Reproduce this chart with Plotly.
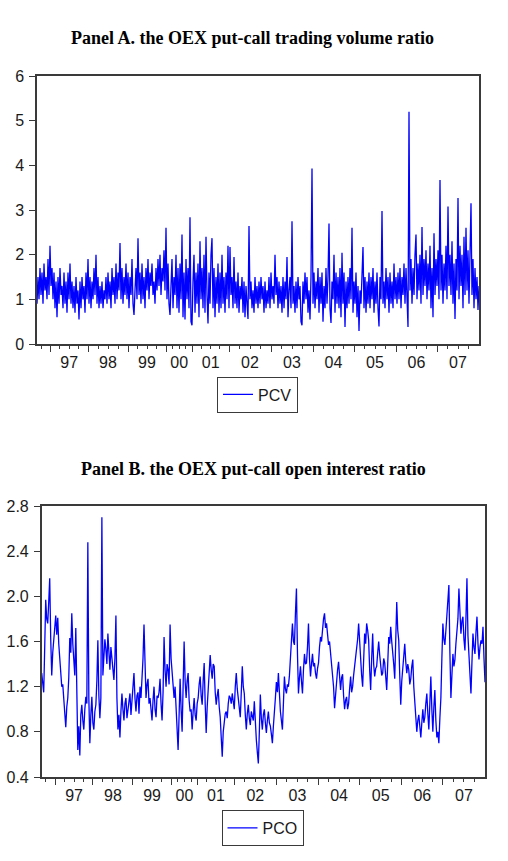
import numpy as np
import plotly.graph_objects as go

# ---------------- data ----------------
year_labels = ["97", "98", "99", "00", "01", "02", "03", "04", "05", "06", "07"]
# observation index at which each year starts (axis is observation based)
year_starts = [13.5, 51, 91, 129, 155.5, 192, 234, 276, 317, 359, 400]
obs_end = 442

# Panel A: OEX put-call trading volume ratio (one value per observation step)
pcv = [
    0.9, 1.5, 1.0, 1.7, 1.1, 1.6, 0.9, 1.8, 1.2, 1.5,
    1.0, 1.9, 1.1, 2.2, 1.3, 1.7, 1.0, 1.6, 0.8, 1.4,
    0.6, 1.5, 0.9, 1.7, 1.1, 1.3, 0.8, 1.6, 0.9, 1.4,
    0.7, 1.6, 1.0, 1.8, 0.9, 1.4, 0.8, 1.3, 0.7, 1.5,
    0.9, 1.2, 0.55, 1.4, 0.8, 1.5, 1.0, 1.3, 0.7, 1.6,
    1.0, 1.9, 0.9, 1.5, 0.8, 1.4, 1.0, 1.7, 1.1, 2.0,
    0.9, 1.5, 0.8, 1.3, 0.9, 1.4, 0.8, 1.2, 1.0, 1.5,
    0.9, 1.6, 1.0, 1.4, 0.8, 1.7, 1.1, 1.5, 0.9, 1.8,
    1.0, 1.6, 1.2, 2.26, 1.0, 1.7, 0.9, 1.5, 1.1, 1.8,
    1.0, 1.6, 0.8, 1.5, 1.1, 1.9, 0.9, 0.65, 1.2, 1.7,
    1.0, 2.37, 1.1, 1.6, 0.9, 1.8, 1.0, 1.5, 0.8, 1.7,
    1.2, 1.9, 1.0, 1.6, 1.3, 1.8, 1.1, 1.4, 0.9, 1.7,
    1.2, 1.9, 1.3, 2.0, 1.1, 1.7, 1.4, 2.1, 1.2, 2.6,
    1.0, 1.8, 0.9, 0.65, 1.3, 1.9, 0.8, 1.5, 1.1, 2.0,
    0.8, 1.7, 0.7, 1.8, 1.0, 2.45, 0.6, 1.6, 0.55, 1.9,
    1.0, 1.7, 0.8, 2.84, 0.5, 0.42, 1.4, 2.0, 0.7, 1.6,
    0.9, 1.8, 0.6, 2.3, 1.0, 1.7, 0.8, 2.0, 0.7, 2.4,
    1.1, 0.46, 1.6, 0.9, 2.0, 2.37, 0.8, 1.7, 0.6, 1.5,
    0.9, 1.8, 0.7, 1.6, 0.8, 2.0, 0.9, 1.5, 0.7, 1.6,
    1.0, 2.2, 0.8, 2.17, 1.1, 1.5, 0.8, 1.95, 0.9, 1.4,
    0.8, 1.6, 0.7, 1.3, 1.0, 1.5, 0.7, 1.4, 0.6, 1.3,
    0.9, 0.56, 2.64, 1.0, 1.4, 0.8, 1.2, 0.7, 1.5, 0.9,
    1.3, 0.8, 1.4, 0.9, 1.5, 1.0, 1.3, 0.7, 1.4, 0.8,
    1.2, 0.9, 1.5, 0.8, 1.6, 1.0, 1.3, 0.9, 2.0, 1.1,
    1.5, 0.8, 1.4, 0.9, 1.3, 0.7, 1.5, 0.8, 1.4, 1.0,
    1.95, 0.6, 1.2, 1.5, 0.8, 2.75, 0.9, 1.3, 0.7, 1.4,
    0.8, 1.5, 1.0, 1.3, 0.5, 0.42, 1.4, 0.9, 1.6, 1.0,
    1.5, 0.7, 1.2, 0.55, 1.5, 3.93, 0.9, 1.6, 0.8, 1.4,
    1.0, 1.7, 0.7, 1.5, 0.9, 1.6, 0.5, 1.3, 0.8, 1.7,
    0.9, 1.5, 2.7, 0.8, 0.47, 1.4, 1.0, 2.0, 0.7, 1.6,
    0.9, 1.5, 0.8, 1.7, 0.6, 2.04, 0.9, 1.6, 0.38, 1.4,
    0.8, 1.5, 0.9, 1.7, 1.0, 2.6, 0.7, 1.4, 0.9, 1.6,
    0.6, 1.3, 0.29, 1.2, 0.9, 1.6, 2.17, 0.8, 1.5, 0.7,
    1.4, 0.9, 1.6, 0.8, 1.5, 1.0, 1.7, 0.7, 1.4, 0.9,
    1.6, 0.8, 0.39, 1.5, 1.0, 2.98, 0.9, 1.4, 0.8, 1.7,
    1.0, 1.5, 0.7, 1.6, 0.9, 1.4, 0.8, 1.8, 1.0, 1.5,
    0.9, 1.6, 1.0, 1.7, 0.8, 1.5, 1.1, 1.8, 0.9, 1.7,
    1.0, 0.38, 5.2, 1.2, 1.9, 0.9, 1.7, 1.1, 2.0, 2.45,
    1.0, 1.8, 1.2, 2.0, 0.9, 2.62, 1.1, 1.9, 1.3, 2.1,
    1.0, 1.8, 1.2, 2.2, 0.8, 1.7, 0.6, 2.48, 1.1, 1.9,
    1.3, 2.1, 1.0, 3.67, 1.2, 2.0, 0.9, 1.8, 1.2, 2.2,
    1.0, 3.08, 1.3, 2.0, 1.1, 2.3, 0.9, 1.8, 0.56, 1.9,
    1.2, 3.27, 1.0, 2.2, 1.3, 2.0, 0.8, 2.4, 1.1, 2.6,
    1.2, 2.1, 0.9, 2.0, 3.15, 1.1, 1.9, 0.8, 1.7, 1.0,
    1.5, 0.76, 1.3,
]

# Panel B: OEX put-call open interest ratio, read at even observation steps ...
pco_even = [
    1.32, 1.15, 1.97, 1.76, 2.16, 1.30, 1.59, 1.83, 1.81, 1.46,
    1.20, 1.10, 0.84, 1.10, 1.63, 1.85, 1.46, 1.72, 0.64, 0.59,
    1.04, 0.82, 1.11, 2.48, 0.70, 1.11, 0.82, 1.04, 1.61, 0.92,
    2.70, 1.44, 1.53, 1.67, 1.35, 1.44, 1.26, 1.83, 0.82, 0.75,
    1.14, 0.90, 1.10, 0.98, 1.14, 1.05, 1.32, 0.98, 1.15, 1.20,
    1.25, 1.75, 1.10, 1.27, 1.10, 0.90, 1.20, 0.93, 1.10, 1.27,
    0.90, 1.64, 1.20, 1.35, 1.75, 1.32, 1.10, 0.98, 0.64, 1.27,
    0.80, 1.60, 1.10, 1.32, 0.98, 0.82, 1.10, 0.90, 1.10, 1.29,
    1.04, 1.41, 0.79, 1.20, 1.48, 1.27, 1.38, 1.04, 1.18, 0.93,
    0.58, 0.90, 0.98, 1.05, 1.10, 1.14, 1.00, 1.32, 1.10, 0.93,
    1.38, 1.14, 0.82, 1.04, 0.86, 0.95, 1.07, 0.73, 0.52, 1.13,
    0.82, 1.00, 0.79, 0.98, 0.85, 0.70, 0.95, 1.24, 1.32, 0.98,
    0.82, 1.29, 1.14, 1.20, 1.44, 1.76, 1.57, 2.07, 1.14, 1.38,
    1.14, 1.49, 1.41, 1.76, 1.29, 1.49, 1.41, 1.27, 1.41, 1.64,
    1.73, 1.85, 1.76, 1.57, 1.49, 1.32, 1.01, 1.29, 1.42, 1.17,
    1.31, 1.00, 1.11, 1.05, 1.29, 1.20, 1.38, 1.55, 1.76, 1.41,
    1.20, 1.67, 1.76, 1.61, 1.17, 1.67, 1.29, 1.38, 1.60, 1.41,
    1.32, 1.41, 1.17, 1.64, 1.73, 1.52, 1.27, 1.95, 1.61, 1.04,
    1.38, 1.58, 1.32, 1.35, 1.27, 1.44, 1.04, 0.80, 0.95, 0.75,
    1.00, 0.93, 1.14, 0.82, 1.29, 0.80, 1.17, 0.75, 0.70, 1.10,
    1.76, 1.57, 1.85, 2.10, 1.10, 1.49, 1.44, 1.67, 2.07, 1.67,
    1.82, 1.52, 2.16, 1.47, 1.14, 1.67, 1.49, 1.82, 1.44, 1.61,
    1.73, 1.24,
]
# ... and at the odd observation steps in between
pco_odd = [
    1.20, 1.55, 1.80, 1.95, 1.62, 1.50, 1.72, 1.66, 1.58, 1.28,
    1.22, 0.92, 1.02, 1.28, 1.50, 1.58, 1.30, 1.05, 0.85, 0.95,
    0.90, 1.00, 1.05, 1.10, 0.95, 0.88, 0.98, 1.25, 1.12, 1.10,
    1.30, 1.62, 1.40, 1.50, 1.55, 1.30, 1.45, 1.10, 0.95, 0.98,
    1.00, 1.05, 0.92, 1.08, 0.95, 1.20, 1.10, 1.12, 0.96, 1.10,
    1.45, 1.30, 1.22, 1.05, 1.00, 1.08, 1.00, 1.12, 1.15, 1.05,
    1.15, 1.35, 1.40, 1.22, 1.45, 1.18, 1.20, 0.80, 0.95, 1.00,
    1.20, 1.25, 1.25, 1.08, 1.00, 0.98, 0.95, 1.05, 1.22, 1.12,
    1.25, 1.05, 1.02, 1.32, 1.35, 1.40, 1.15, 1.12, 1.02, 0.75,
    0.80, 0.96, 0.92, 1.12, 1.05, 1.08, 1.20, 1.18, 1.02, 1.15,
    1.20, 0.95, 0.96, 0.92, 0.98, 0.90, 0.85, 0.62, 0.80, 0.92,
    0.95, 0.88, 0.90, 0.88, 0.78, 0.85, 1.10, 1.15, 1.12, 0.90,
    1.05, 1.18, 1.22, 1.30, 1.62, 1.60, 1.85, 1.50, 1.28, 1.25,
    1.35, 1.40, 1.55, 1.45, 1.40, 1.38, 1.32, 1.36, 1.55, 1.60,
    1.80, 1.72, 1.65, 1.60, 1.38, 1.20, 1.15, 1.35, 1.25, 1.28,
    1.12, 1.08, 1.00, 1.18, 1.15, 1.30, 1.45, 1.62, 1.58, 1.30,
    1.45, 1.58, 1.70, 1.35, 1.45, 1.40, 1.36, 1.50, 1.48, 1.30,
    1.45, 1.25, 1.40, 1.58, 1.60, 1.40, 1.55, 1.70, 1.30, 1.25,
    1.50, 1.42, 1.40, 1.22, 1.38, 1.20, 0.92, 0.90, 0.85, 0.88,
    0.88, 1.05, 0.96, 1.05, 1.00, 1.02, 0.90, 0.80, 0.92, 1.45,
    1.62, 1.70, 1.95, 1.50, 1.30, 1.38, 1.58, 1.80, 1.75, 1.78,
    1.62, 1.80, 1.65, 1.28, 1.42, 1.55, 1.68, 1.58, 1.55, 1.58,
    1.45,
]

pco = [v for pair in zip(pco_even, pco_odd) for v in pair] + [pco_even[-1]]

x_pcv = np.arange(len(pcv))
x_pco = np.arange(len(pco))

# ---------------- axis tick helpers ----------------
bounds = year_starts + [obs_end]
label_pos = [(bounds[i] + bounds[i + 1]) / 2 for i in range(len(year_starts))]
q = (bounds[1] - bounds[0]) / 4
minor_pos = [bounds[0] - q]
for i in range(len(year_starts)):
    s, e = bounds[i], bounds[i + 1]
    minor_pos += [s + k * (e - s) / 4 for k in (1, 2, 3)]

TICK_FONT = dict(family="Liberation Sans", size=16, color="#1a1a1a")
FRAME = "#3a3a3a"
BLUE = "#0000FF"

fig = go.Figure()
fig.add_trace(go.Scatter(x=x_pcv, y=pcv, mode="lines", name="PCV",
                         line=dict(color=BLUE, width=1.3), xaxis="x", yaxis="y",
                         legend="legend"))
fig.add_trace(go.Scatter(x=x_pco, y=pco, mode="lines", name="PCO",
                         line=dict(color=BLUE, width=1.3), xaxis="x2", yaxis="y2",
                         legend="legend2"))
# helper traces so the label axes get drawn
fig.add_trace(go.Scatter(x=[None], y=[None], xaxis="x3", yaxis="y", showlegend=False))
fig.add_trace(go.Scatter(x=[None], y=[None], xaxis="x4", yaxis="y2", showlegend=False))

W, H = 508, 861
A_dom_x = [37 / W, 479 / W]
A_dom_y = [1 - 344 / H, 1 - 76 / H]
B_dom_x = [41.7 / W, 485 / W]
B_dom_y = [1 - 777 / H, 1 - 506 / H]

def tick_axis(domain, anchor):
    return dict(domain=domain, anchor=anchor, range=[0, obs_end], automargin=False,
                showline=True, linecolor=FRAME, linewidth=1.5, mirror=True,
                showgrid=False, zeroline=False,
                tickmode="array", tickvals=bounds[:-1], ticks="outside",
                ticklen=6, tickwidth=1.2, tickcolor=FRAME, showticklabels=False,
                minor=dict(tickmode="array", tickvals=minor_pos, ticks="outside",
                           ticklen=3, tickwidth=1, tickcolor=FRAME, showgrid=False))

def label_axis(overlay, anchor):
    return dict(overlaying=overlay, anchor=anchor, side="bottom", range=[0, obs_end],
                automargin=False, showline=False, showgrid=False, zeroline=False,
                tickmode="array", tickvals=label_pos, ticktext=year_labels,
                ticks="", ticklabelstandoff=7, tickfont=TICK_FONT)

fig.update_layout(
    template="none",
    width=W, height=H, margin=dict(l=0, r=0, t=0, b=0, pad=0, autoexpand=False),
    paper_bgcolor="white", plot_bgcolor="white",
    xaxis=tick_axis(A_dom_x, "y"),
    xaxis2=tick_axis(B_dom_x, "y2"),
    xaxis3=label_axis("x", "y"),
    xaxis4=label_axis("x2", "y2"),
    yaxis=dict(domain=A_dom_y, anchor="x", range=[0, 6], tickmode="array",
               tickvals=[0, 1, 2, 3, 4, 5, 6], ticks="outside", ticklen=6,
               tickwidth=1.2, tickcolor=FRAME, showline=True, linecolor=FRAME,
               linewidth=1.5, mirror=True, showgrid=False, zeroline=False,
               tickfont=TICK_FONT, ticklabelstandoff=2, automargin=False),
    yaxis2=dict(domain=B_dom_y, anchor="x2", range=[0.4, 2.8], tickmode="array",
                tickvals=[0.4, 0.8, 1.2, 1.6, 2.0, 2.4, 2.8], tickformat=".1f",
                ticks="outside", ticklen=6, tickwidth=1.2, tickcolor=FRAME,
                showline=True, linecolor=FRAME, linewidth=1.5, mirror=True,
                showgrid=False, zeroline=False, tickfont=TICK_FONT,
                ticklabelstandoff=2, automargin=False),
    legend=dict(x=257.5 / W, y=1 - 394.5 / H, xanchor="center", yanchor="middle",
                bordercolor=FRAME, borderwidth=1, bgcolor="white",
                font=dict(family="Liberation Sans", size=16, color="#1a1a1a"),
                itemwidth=30, tracegroupgap=0),
    legend2=dict(x=262.5 / W, y=1 - 828 / H, xanchor="center", yanchor="middle",
                 bordercolor=FRAME, borderwidth=1, bgcolor="white",
                 font=dict(family="Liberation Sans", size=16, color="#1a1a1a"),
                 itemwidth=30, tracegroupgap=0),
    showlegend=True,
)

title_font = dict(family="Liberation Serif", size=18, color="black")
fig.add_annotation(text="<b>Panel A. the OEX put-call trading volume ratio</b>",
                   xref="paper", yref="paper", x=252.5 / W, y=1 - 38 / H,
                   xanchor="center", yanchor="middle", showarrow=False, font=title_font)
fig.add_annotation(text="<b>Panel B. the OEX put-call open interest ratio</b>",
                   xref="paper", yref="paper", x=253 / W, y=1 - 469 / H,
                   xanchor="center", yanchor="middle", showarrow=False, font=title_font)

fig.write_html("out.html")
